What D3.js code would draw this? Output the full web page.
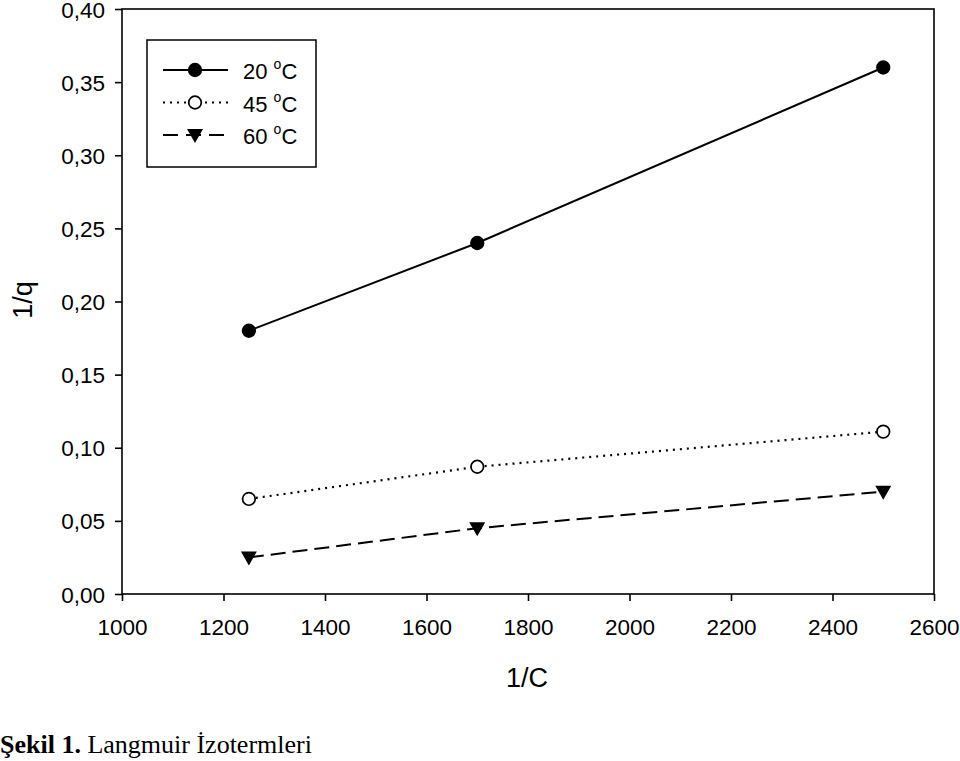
<!DOCTYPE html>
<html>
<head>
<meta charset="utf-8">
<script src="https://cdn.jsdelivr.net/npm/d3@7"></script>
<style>
  body { margin: 0; background: #fff; }
  text { font-family: "Liberation Sans", Arial, sans-serif; fill: #000; }
</style>
</head>
<body>
<script>
var w = 960;
var h = 761;

// data
var xValues = [1250, 1700, 2500];
var series20 = [0.18, 0.24, 0.36];
var series45 = [0.065, 0.087, 0.111];
var series60 = [0.025, 0.045, 0.07];
var seriesNames = ["20", "45", "60"];
var xTicks = [1000, 1200, 1400, 1600, 1800, 2000, 2200, 2400, 2600];
var yTicks = [0, 0.05, 0.10, 0.15, 0.20, 0.25, 0.30, 0.35, 0.40];

var mLeft = 122, mRight = 934, mTop = 9, mBottom = 594;

var x = d3.scaleLinear().domain([1000, 2600]).range([mLeft, mRight]);
var y = d3.scaleLinear().domain([0, 0.40]).range([mBottom, mTop]);

var svg = d3.select("body")
    .append("svg")
    .attr("width", w)
    .attr("height", h);

// frame
svg.append("rect")
    .attr("x", mLeft).attr("y", mTop)
    .attr("width", mRight - mLeft).attr("height", mBottom - mTop)
    .attr("fill", "none").attr("stroke", "black").attr("stroke-width", 1.6);

var fmt = function(d) { return d3.format(".2f")(d).replace(".", ","); };

var yAxis = svg.append("g")
    .attr("transform", "translate(" + mLeft + ",0)")
    .call(d3.axisLeft(y).tickValues(yTicks).tickSize(7).tickPadding(10).tickFormat(fmt));

var xAxis = svg.append("g")
    .attr("transform", "translate(0," + mBottom + ")")
    .call(d3.axisBottom(x).tickValues(xTicks).tickSize(7).tickPadding(18).tickFormat(d3.format("d")));

[xAxis, yAxis].forEach(function(a) {
  a.select(".domain").remove();
  a.selectAll("line").attr("stroke", "black").attr("stroke-width", 1.6);
  a.selectAll("text").style("font-size", "22.5px").style("font-family", "Liberation Sans, Arial, sans-serif").attr("fill", "black");
});
yAxis.selectAll("text").attr("dy", "0.36em");

svg.append("text")
    .attr("x", 527).attr("y", 687)
    .attr("text-anchor", "middle")
    .style("font-size", "27px")
    .text("1/C");

svg.append("text")
    .attr("transform", "translate(32,300) rotate(-90)")
    .attr("text-anchor", "middle")
    .style("font-size", "27px")
    .text("1/q");

var line = d3.line()
    .x(function(d, i) { return x(xValues[i]); })
    .y(function(d) { return y(d); });

var styles = [
  { data: series20, dash: null, marker: "fill" },
  { data: series45, dash: "2,5", marker: "open" },
  { data: series60, dash: "15,7", marker: "tri" }
];

function drawMarker(g, type, cx, cy) {
  if (type === "tri") {
    g.append("path")
      .attr("d", "M" + (cx - 8) + "," + (cy - 6) + "L" + (cx + 8) + "," + (cy - 6) + "L" + cx + "," + (cy + 8) + "Z")
      .attr("fill", "black");
  } else {
    g.append("circle")
      .attr("cx", cx).attr("cy", cy).attr("r", 6.3)
      .attr("fill", type === "fill" ? "black" : "white")
      .attr("stroke", "black").attr("stroke-width", 1.7);
  }
}

styles.forEach(function(s) {
  svg.append("path")
    .datum(s.data)
    .attr("d", line)
    .attr("fill", "none")
    .attr("stroke", "black")
    .attr("stroke-width", s.dash === "2,5" ? 2.2 : 2)
    .attr("stroke-dasharray", s.dash);
  var g = svg.append("g");
  s.data.forEach(function(d, i) { drawMarker(g, s.marker, x(xValues[i]), y(d)); });
});

// legend
var legend = svg.append("g");
legend.append("rect")
    .attr("x", 147).attr("y", 40).attr("width", 169).attr("height", 127)
    .attr("fill", "white").attr("stroke", "black").attr("stroke-width", 1.5);

styles.forEach(function(s, i) {
  var ly = 70 + i * 32.5;
  legend.append("line")
    .attr("x1", 163).attr("x2", 228).attr("y1", ly).attr("y2", ly)
    .attr("stroke", "black")
    .attr("stroke-width", s.dash === "2,5" ? 2.2 : 2)
    .attr("stroke-dasharray", s.dash === "15,7" ? "15,8" : s.dash);
  drawMarker(legend, s.marker, 195, ly);
  var t = legend.append("text")
    .attr("x", 243).attr("y", ly + 9)
    .style("font-size", "22px");
  t.append("tspan").text(seriesNames[i] + " ");
  t.append("tspan").attr("dy", -10).style("font-size", "14px").text("o");
  t.append("tspan").attr("dy", 10).text("C");
});

// caption
var cap = svg.append("text")
    .attr("x", 0).attr("y", 753)
    .style("font-family", "Liberation Serif, Times New Roman, serif")
    .style("font-size", "26px");
cap.append("tspan").style("font-weight", "bold").text("Şekil 1.");
cap.append("tspan").text(" Langmuir İzotermleri");
</script>
</body>
</html>
